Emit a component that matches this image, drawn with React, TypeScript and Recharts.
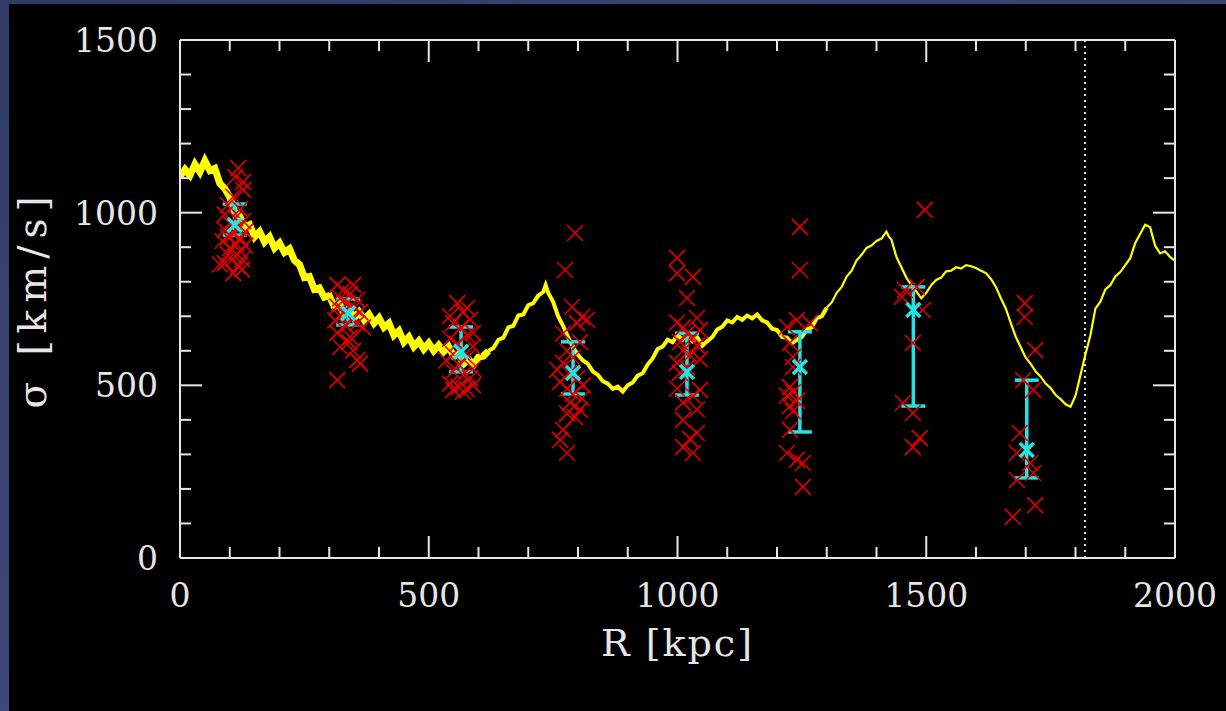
import { ComposedChart, Line, Scatter, ErrorBar, XAxis, YAxis, ReferenceLine, Label } from "recharts";

// yellow profile, split where the curve gets thinner
const profileInner: [number, number][] = [
  [0, 1105], [10, 1125], [20, 1108], [30, 1140], [40, 1118], [50, 1150], [60, 1122], [70, 1128],
  [80, 1085], [90, 1070], [100, 1045], [110, 1002], [120, 990], [130, 958], [140, 965], [150, 930],
  [160, 945], [170, 915], [180, 930], [190, 898], [200, 912], [210, 885], [220, 895], [230, 862],
  [240, 850], [250, 812], [260, 815], [270, 778], [280, 782], [290, 755], [300, 760], [310, 728],
  [320, 738], [330, 705], [340, 722], [350, 695], [360, 712], [370, 690], [380, 705], [390, 680],
  [400, 695], [410, 668], [420, 680], [430, 645], [440, 658], [450, 625], [460, 640], [470, 612],
  [480, 628], [490, 605], [500, 622], [510, 600], [520, 616], [530, 598], [540, 612], [550, 585],
  [560, 590], [570, 562], [580, 575], [590, 560], [600, 582], [610, 585], [620, 600],
];

const profileMiddle: [number, number][] = [
  [620, 600], [630, 608], [640, 632], [650, 638], [660, 668], [670, 672], [680, 702], [690, 705],
  [700, 732], [710, 738], [720, 760], [730, 770], [735, 790], [740, 768], [750, 742], [760, 700],
  [770, 672], [780, 640], [790, 610], [800, 588], [810, 572], [820, 562], [830, 540], [840, 530],
  [850, 512], [860, 505], [870, 490], [880, 496], [890, 482], [900, 500], [910, 508], [920, 528],
  [930, 535], [940, 560], [950, 578], [960, 605], [970, 612], [980, 632], [990, 625], [1000, 645],
  [1010, 632], [1020, 648], [1030, 628], [1040, 638], [1050, 615], [1060, 628], [1070, 640], [1080, 662],
  [1090, 670], [1100, 688], [1110, 682], [1120, 698], [1130, 690], [1140, 702], [1150, 694], [1160, 705],
  [1170, 688], [1180, 682], [1190, 664], [1200, 660], [1210, 640], [1220, 638], [1230, 622], [1240, 632],
  [1250, 640], [1260, 662], [1270, 668], [1280, 695], [1290, 700], [1300, 725],
];

const profileOuter: [number, number][] = [
  [1300, 725], [1310, 740], [1320, 768], [1330, 785], [1340, 815], [1350, 832], [1360, 862], [1370, 878],
  [1380, 898], [1390, 905], [1400, 918], [1410, 925], [1420, 945], [1425, 930], [1430, 922], [1440, 872],
  [1450, 842], [1460, 812], [1470, 790], [1480, 772], [1490, 752], [1500, 768], [1510, 790], [1520, 805],
  [1530, 812], [1540, 830], [1550, 832], [1560, 842], [1570, 838], [1580, 848], [1590, 845], [1600, 840],
  [1610, 832], [1620, 825], [1630, 808], [1640, 785], [1650, 752], [1660, 722], [1670, 680], [1680, 640],
  [1690, 610], [1700, 580], [1710, 562], [1720, 540], [1730, 525], [1740, 505], [1750, 492], [1760, 472],
  [1770, 460], [1780, 445], [1790, 438], [1800, 470], [1810, 530], [1820, 590], [1830, 645], [1840, 722],
  [1850, 742], [1860, 778], [1870, 790], [1880, 815], [1890, 828], [1900, 848], [1910, 868], [1920, 912],
  [1930, 938], [1940, 965], [1950, 958], [1960, 905], [1970, 882], [1980, 888], [1990, 872], [2000, 860],
];

// individual galaxies (red crosses)
const galaxies: [number, number][] = [
  [117, 1129], [111, 1103], [127, 1089], [127, 1066], [107, 1046], [96, 1022], [121, 1010], [90, 995],
  [111, 985], [127, 975], [101, 968], [117, 955], [90, 950], [131, 945], [107, 938], [96, 930],
  [121, 925], [85, 918], [113, 910], [131, 905], [101, 898], [121, 888], [96, 880], [111, 872],
  [125, 865], [90, 854], [117, 845], [80, 850], [107, 825], [125, 835],
  [316, 791], [348, 791], [328, 776], [342, 765], [322, 752], [356, 748], [336, 738], [316, 728],
  [350, 725], [330, 715], [362, 712], [322, 700], [344, 692], [312, 688], [356, 680], [334, 672],
  [368, 668], [316, 652], [342, 640], [322, 611], [348, 600], [356, 573], [362, 563], [316, 515], [340, 625],
  [557, 738], [577, 724], [569, 712], [543, 700], [583, 690], [549, 680], [589, 652], [565, 668],
  [577, 645], [543, 635], [557, 620], [589, 612], [569, 600], [549, 590], [577, 580], [535, 572],
  [560, 560], [589, 548], [549, 540], [569, 530], [583, 520], [543, 505], [560, 495], [577, 488],
  [549, 487], [569, 482], [589, 500],
  [794, 941], [774, 834], [788, 727], [808, 698], [798, 680], [818, 690], [770, 650], [804, 625],
  [778, 600], [790, 580], [770, 565], [758, 545], [782, 535], [798, 520], [764, 510], [810, 500],
  [778, 490], [790, 475], [808, 462], [784, 450], [804, 429], [778, 418], [794, 408], [770, 371],
  [764, 342], [778, 304],
  [999, 869], [999, 825], [1031, 814], [1019, 753], [1039, 695], [999, 682], [1011, 668], [1045, 660],
  [1019, 650], [1031, 640], [1005, 625], [1039, 615], [1011, 600], [1025, 588], [1045, 575], [999, 565],
  [1019, 552], [1005, 536], [1045, 487], [999, 490], [1031, 470], [1011, 450], [1039, 430], [1011, 400],
  [1039, 362], [1011, 321], [1031, 304], [1025, 345],
  [1246, 959], [1246, 834], [1240, 689], [1266, 680], [1220, 669], [1226, 623], [1232, 582], [1232, 553],
  [1226, 495], [1232, 480], [1220, 470], [1240, 455], [1226, 440], [1232, 425], [1226, 371], [1220, 304],
  [1240, 284], [1252, 275], [1252, 206],
  [1497, 1008], [1457, 776], [1481, 785], [1451, 756], [1493, 718], [1473, 623], [1453, 449], [1473, 420],
  [1473, 321], [1487, 347],
  [1698, 738], [1698, 698], [1719, 602], [1695, 515], [1715, 487], [1688, 362], [1682, 304], [1709, 275],
  [1682, 226], [1715, 246], [1719, 153], [1674, 119],
];

// binned dispersion (cyan)
const binR = [110, 338, 565, 790, 1019, 1246, 1474, 1702];
const binSigma = [964, 709, 597, 536, 539, 553, 718, 313];
const binUpper = [1025, 750, 669, 626, 651, 655, 785, 515];
const binLower = [935, 675, 539, 475, 472, 365, 440, 232];

const xTicks = [0, 100, 200, 300, 400, 500, 600, 700, 800, 900, 1000, 1100, 1200, 1300, 1400, 1500, 1600, 1700, 1800, 1900, 2000];
const yTicks = [0, 100, 200, 300, 400, 500, 600, 700, 800, 900, 1000, 1100, 1200, 1300, 1400, 1500];
const virialR = 1819;

const AXIS = "#e6e6e6";
const FONT = "'DejaVu Serif', serif";

const toRows = (pts: [number, number][]) => pts.map(([R, s]) => ({ R, s }));
const binRows = binR.map((R, i) => ({
  R,
  s: binSigma[i],
  err: [binSigma[i] - binLower[i], binUpper[i] - binSigma[i]],
}));

function Cross({ cx, cy, r, color, width }: any) {
  return (
    <g stroke={color} strokeWidth={width}>
      <line x1={cx - r} y1={cy - r} x2={cx + r} y2={cy + r} />
      <line x1={cx - r} y1={cy + r} x2={cx + r} y2={cy - r} />
    </g>
  );
}

function BottomTick({ x, y, payload }: any) {
  const major = payload.value % 500 === 0;
  return (
    <g>
      <line x1={x} x2={x} y1={y} y2={y - (major ? 22 : 11)} stroke={AXIS} strokeWidth={2} />
      {major && (
        <text x={x} y={y + 49} textAnchor="middle" fill={AXIS} fontSize={33} fontFamily={FONT}>
          {payload.value}
        </text>
      )}
    </g>
  );
}

function TopTick({ x, y, payload }: any) {
  const major = payload.value % 500 === 0;
  return <line x1={x} x2={x} y1={y} y2={y + (major ? 22 : 11)} stroke={AXIS} strokeWidth={2} />;
}

function LeftTick({ x, y, payload }: any) {
  const major = payload.value % 500 === 0;
  return (
    <g>
      <line x1={x} x2={x + (major ? 22 : 11)} y1={y} y2={y} stroke={AXIS} strokeWidth={2} />
      {major && (
        <text x={x - 22} y={y} dy="0.36em" textAnchor="end" fill={AXIS} fontSize={33} fontFamily={FONT}>
          {payload.value}
        </text>
      )}
    </g>
  );
}

function RightTick({ x, y, payload }: any) {
  const major = payload.value % 500 === 0;
  return <line x1={x} x2={x - (major ? 22 : 11)} y1={y} y2={y} stroke={AXIS} strokeWidth={2} />;
}

function YTitle({ viewBox }: any) {
  const cx = viewBox.x + 22;
  const cy = viewBox.y + viewBox.height / 2;
  return (
    <text x={cx} y={cy} transform={`rotate(-90 ${cx} ${cy})`} textAnchor="middle" dominantBaseline="central"
      fill={AXIS} fontSize={39} letterSpacing={7} fontFamily={FONT}>
      σ [km/s]
    </text>
  );
}

function XTitle({ viewBox }: any) {
  const cx = viewBox.x + viewBox.width / 2;
  return (
    <text x={cx} y={viewBox.y + 98} textAnchor="middle" fill={AXIS} fontSize={38} letterSpacing={2} fontFamily={FONT}>
      R [kpc]
    </text>
  );
}

export default function App() {
  return (
    <div style={{ position: "relative", width: 1226, height: 711, background: "linear-gradient(160deg, #2f3b66, #46528a)" }}>
      <style>{"body{margin:0}"}</style>
      <div style={{ position: "absolute", left: 9, top: 4, right: 0, bottom: 0, background: "#000" }} />
      <div style={{ position: "absolute", left: 0, top: 0 }}>
        <ComposedChart width={1226} height={711} margin={{ top: 39, right: 50, bottom: 43, left: 10 }}>
          <XAxis xAxisId={0} dataKey="R" type="number" domain={[0, 2000]} ticks={xTicks} interval={0}
            tickSize={0} tickMargin={0} tickLine={false} tick={<BottomTick />} height={110}
            axisLine={{ stroke: AXIS, strokeWidth: 2 }} allowDataOverflow>
            <Label content={<XTitle />} />
          </XAxis>
          <XAxis xAxisId="top" orientation="top" dataKey="R" type="number" domain={[0, 2000]} ticks={xTicks}
            interval={0} tickSize={0} tickMargin={0} tickLine={false} tick={<TopTick />} height={1}
            axisLine={{ stroke: AXIS, strokeWidth: 2 }} allowDataOverflow />
          <YAxis yAxisId={0} type="number" domain={[0, 1500]} ticks={yTicks} interval={0} tickSize={0}
            tickMargin={0} tickLine={false} tick={<LeftTick />} width={170}
            axisLine={{ stroke: AXIS, strokeWidth: 2 }} allowDataOverflow>
            <Label content={<YTitle />} />
          </YAxis>
          <YAxis yAxisId="right" orientation="right" type="number" domain={[0, 1500]} ticks={yTicks} interval={0}
            tickSize={0} tickMargin={0} tickLine={false} tick={<RightTick />} width={1}
            axisLine={{ stroke: AXIS, strokeWidth: 2 }} allowDataOverflow />

          <ReferenceLine x={virialR} stroke={AXIS} strokeWidth={2} strokeDasharray="2 4" />

          <Scatter data={toRows(galaxies)} dataKey="s" isAnimationActive={false}
            shape={(p: any) => <Cross cx={p.cx} cy={p.cy} r={8} color="#e00000" width={1.6} />} />

          <Line data={toRows(profileInner)} dataKey="s" type="linear" stroke="#ffff00" strokeWidth={7}
            dot={false} activeDot={false} isAnimationActive={false} />
          <Line data={toRows(profileMiddle)} dataKey="s" type="linear" stroke="#ffff00" strokeWidth={4}
            dot={false} activeDot={false} isAnimationActive={false} />
          <Line data={toRows(profileOuter)} dataKey="s" type="linear" stroke="#ffff00" strokeWidth={2.2}
            dot={false} activeDot={false} isAnimationActive={false} />

          <Scatter data={binRows} dataKey="s" isAnimationActive={false}
            shape={(p: any) => <Cross cx={p.cx} cy={p.cy} r={7} color="#22e4e4" width={3.5} />}>
            <ErrorBar dataKey="err" direction="y" width={12} stroke="#22e4e4" strokeWidth={3.5} isAnimationActive={false} />
          </Scatter>
        </ComposedChart>
      </div>
    </div>
  );
}
